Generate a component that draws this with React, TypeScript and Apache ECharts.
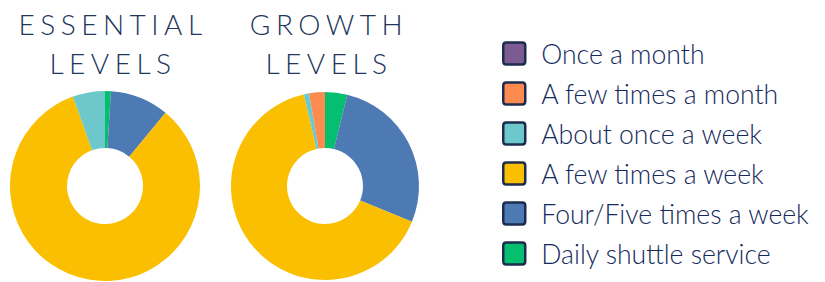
import React, { useEffect, useRef } from "react";
import * as echarts from "echarts";

const categories = [
  "Daily shuttle service",
  "Four/Five times a week",
  "A few times a week",
  "About once a week",
  "A few times a month",
  "Once a month",
];
const legendOrder = [
  "Once a month",
  "A few times a month",
  "About once a week",
  "A few times a week",
  "Four/Five times a week",
  "Daily shuttle service",
];
const colors = ["#04bf6f", "#4e7ab4", "#f9bf00", "#6dc8cc", "#fd8a4e", "#7b5b91"];
const essentialValues = [1, 10, 83.5, 5.5, 0, 0];
const growthValues = [3.8, 27.4, 65.2, 0.9, 2.7, 0];
const titles = ["ESSENTIAL\nLEVELS", "GROWTH\nLEVELS"];

export default function App() {
  const ref = useRef<HTMLDivElement>(null);
  useEffect(() => {
    if (!ref.current) return;
    const chart = echarts.init(ref.current, null, { renderer: "svg" });
    const titleStyle = {
      fontFamily: "Lato",
      fontWeight: 300,
      fontSize: 28,
      color: "#22355a",
      lineHeight: 39,
    };
    const mkData = (vals: number[]) =>
      categories.map((name, i) => ({ name, value: vals[i], itemStyle: { color: colors[i] } }));
    chart.setOption({
      animation: false,
      title: [
        { text: titles[0], left: 113, top: 4, textAlign: "center", textStyle: titleStyle, padding: 0 },
        { text: titles[1], left: 329, top: 4, textAlign: "center", textStyle: titleStyle, padding: 0 },
      ],
      legend: {
        orient: "vertical",
        left: 502,
        top: 40,
        padding: 0,
        data: legendOrder,
        icon: "path://M3,0 H19 Q22,0 22,3 V19 Q22,22 19,22 H3 Q0,22 0,19 V3 Q0,0 3,0 Z",
        itemWidth: 22,
        itemHeight: 22,
        itemGap: 13,
        itemStyle: { borderColor: "#1c2d4f", borderWidth: 2.5 },
        textStyle: {
          fontFamily: "Lato",
          fontWeight: 300,
          fontSize: 26.6,
          color: "#152a5c",
          padding: [0, 0, 0, 11],
        },
        selectedMode: false,
      },
      series: [
        {
          type: "pie",
          center: [105, 186],
          radius: [38, 95],
          startAngle: 90,
          clockwise: true,
          label: { show: false },
          labelLine: { show: false },
          emphasis: { disabled: true },
          data: mkData(essentialValues),
        },
        {
          type: "pie",
          center: [325, 186],
          radius: [38, 94],
          startAngle: 90,
          clockwise: true,
          label: { show: false },
          labelLine: { show: false },
          emphasis: { disabled: true },
          data: mkData(growthValues),
        },
      ],
    });
    const titleLines = new Set(["ESSENTIAL", "GROWTH", "LEVELS"]);
    ref.current.querySelectorAll("text").forEach((t) => {
      if (titleLines.has((t.textContent || "").trim())) {
        (t as SVGTextElement).style.letterSpacing = "5.5px";
      }
    });
    return () => chart.dispose();
  }, []);
  return <div ref={ref} style={{ width: 825, height: 282, position: "absolute", left: 0, top: 0 }} />;
}
